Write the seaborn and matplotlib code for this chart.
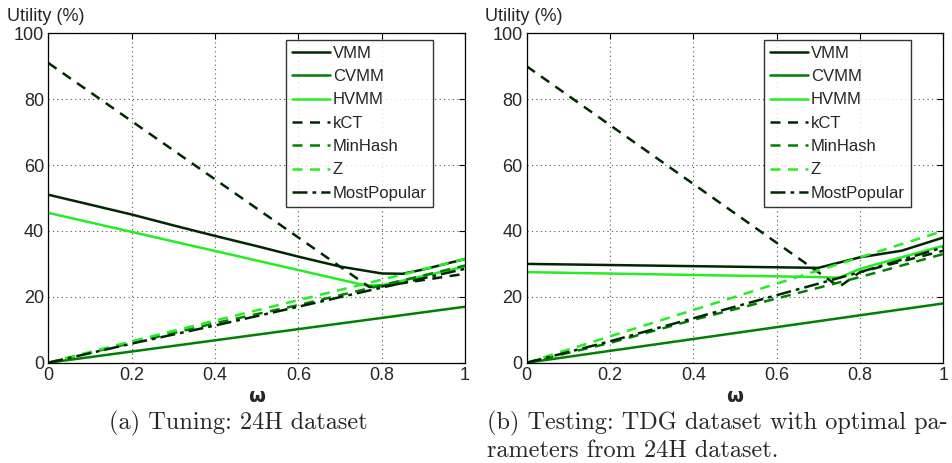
import numpy as np
import pandas as pd
import matplotlib
matplotlib.use("Agg")
import matplotlib.pyplot as plt
import seaborn as sns

# ---- data: (a) Tuning 24H ----
a_vmm_x = [0, 0.1, 0.2, 0.3, 0.4, 0.5, 0.6, 0.7, 0.8, 0.85, 0.9, 1.0]
a_vmm_y = [51, 48, 45, 41.7, 38.5, 35.4, 32.2, 29.2, 27.1, 27, 28.3, 31.5]
a_cvmm_x = [0, 1.0]
a_cvmm_y = [0, 17]
a_hvmm_x = [0, 0.76, 0.8, 1.0]
a_hvmm_y = [45.5, 23.5, 23.5, 29.2]
a_kct_x = [0, 0.77, 0.8, 1.0]
a_kct_y = [91, 23, 23.2, 27]
a_minhash_x = [0, 0.2, 0.4, 0.6, 0.8, 1.0]
a_minhash_y = [0, 6, 12, 17.5, 23.5, 29.5]
a_z_x = [0, 0.2, 0.4, 0.6, 0.8, 1.0]
a_z_y = [0, 6.5, 12.8, 19, 25.2, 31.5]
a_mp_x = [0, 0.2, 0.4, 0.6, 0.8, 1.0]
a_mp_y = [0, 5.8, 11.3, 17, 22.8, 28.5]

# ---- data: (b) Testing TDG ----
b_vmm_x = [0, 0.7, 0.8, 0.9, 1.0]
b_vmm_y = [30, 28.8, 32, 34, 38]
b_cvmm_x = [0, 1.0]
b_cvmm_y = [0, 18]
b_hvmm_x = [0, 0.7, 0.75, 0.8, 1.0]
b_hvmm_y = [27.5, 26, 25.8, 28.5, 35.5]
b_kct_x = [0, 0.75, 0.8, 1.0]
b_kct_y = [90, 23, 27.5, 34]
b_minhash_x = [0, 0.2, 0.4, 0.6, 0.8, 1.0]
b_minhash_y = [0, 6, 13, 19.5, 26, 33]
b_z_x = [0, 0.2, 0.4, 0.6, 0.8, 1.0]
b_z_y = [0, 8, 16, 24, 32, 40]
b_mp_x = [0, 0.2, 0.4, 0.6, 0.8, 1.0]
b_mp_y = [0, 6.5, 13.5, 20.5, 27.5, 35]

labels = ["VMM", "CVMM", "HVMM", "kCT", "MinHash", "Z", "MostPopular"]
colors = ["#002800", "#008000", "#22ee22", "#002800", "#008000", "#22ee22", "#002800"]
styles = ["-", "-", "-", (0, (4, 3)), (0, (4, 3)), (0, (4, 3)), (0, (6, 2, 1.5, 2))]

panel_a = [(a_vmm_x, a_vmm_y), (a_cvmm_x, a_cvmm_y), (a_hvmm_x, a_hvmm_y), (a_kct_x, a_kct_y),
           (a_minhash_x, a_minhash_y), (a_z_x, a_z_y), (a_mp_x, a_mp_y)]
panel_b = [(b_vmm_x, b_vmm_y), (b_cvmm_x, b_cvmm_y), (b_hvmm_x, b_hvmm_y), (b_kct_x, b_kct_y),
           (b_minhash_x, b_minhash_y), (b_z_x, b_z_y), (b_mp_x, b_mp_y)]

sns.set_style("white")
plt.rcParams['font.family'] = ['Liberation Sans', 'DejaVu Sans']

fig = plt.figure(figsize=(9.53, 4.63), dpi=100)
ax1 = fig.add_axes([0.0507, 0.2166, 0.4373, 0.7114])
ax2 = fig.add_axes([0.5527, 0.2166, 0.4371, 0.7114])


def draw(ax, series):
    for (x, y), lab, c, ls in zip(series, labels, colors, styles):
        df = pd.DataFrame({"x": x, "y": y})
        sns.lineplot(data=df, x="x", y="y", ax=ax, color=c, linewidth=1.8,
                     linestyle=ls, label=lab, estimator=None, sort=False)
    ax.set_xlim(0, 1)
    ax.set_ylim(0, 100)
    ax.set_xticks([0, 0.2, 0.4, 0.6, 0.8, 1.0])
    ax.set_xticklabels(["0", "0.2", "0.4", "0.6", "0.8", "1"])
    ax.set_yticks([0, 20, 40, 60, 80, 100])
    ax.grid(True, color="#555555", linestyle=(0, (1, 3)), linewidth=0.8)
    ax.tick_params(direction="in", length=4, labelsize=13, top=True, right=True,
                   color="black", pad=3)
    for s in ax.spines.values():
        s.set_color("black")
        s.set_linewidth(0.9)
    ax.set_xlabel("ω", fontsize=14, labelpad=2, family="DejaVu Sans", fontweight="bold")
    ax.set_ylabel("")
    ax.text(-0.1, 1.025, "Utility (%)", transform=ax.transAxes, fontsize=13,
            ha="left", va="bottom")
    leg = ax.legend(loc="upper right", bbox_to_anchor=(0.922, 0.98), borderaxespad=0,
                    fontsize=12, handlelength=2.3, handletextpad=0.15, labelspacing=0.5,
                    frameon=True, fancybox=False, edgecolor="black", borderpad=0.35)
    leg.get_frame().set_linewidth(1.0)


draw(ax1, panel_a)
draw(ax2, panel_b)

fig.text(0.25, 0.072, "(a) Tuning: 24H dataset", family="cmr10", fontsize=17.5,
         ha="center", va="baseline")
fig.text(0.511, 0.072, "(b) Testing: TDG dataset with optimal pa-", family="cmr10",
         fontsize=17.5, ha="left", va="baseline")
fig.text(0.511, 0.012, "rameters from 24H dataset.", family="cmr10",
         fontsize=17.5, ha="left", va="baseline")

fig.savefig("out.png", dpi=100)
